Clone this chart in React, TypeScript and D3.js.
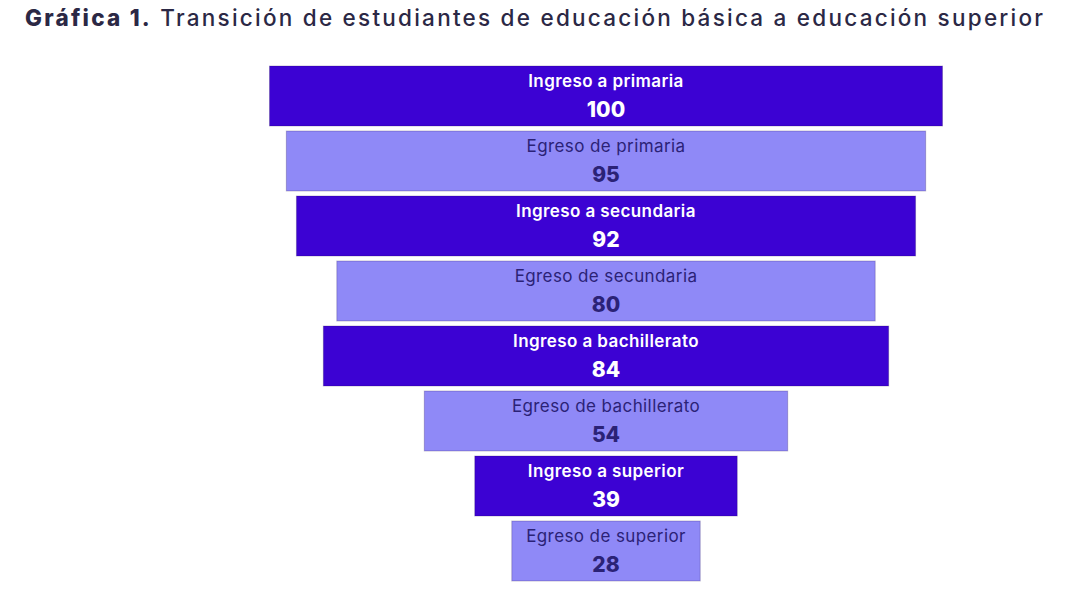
import * as d3 from "d3";

const stages = [
  "Ingreso a primaria",
  "Egreso de primaria",
  "Ingreso a secundaria",
  "Egreso de secundaria",
  "Ingreso a bachillerato",
  "Egreso de bachillerato",
  "Ingreso a superior",
  "Egreso de superior",
];
const values = [100, 95, 92, 80, 84, 54, 39, 28];
const kinds = ["ingreso", "egreso", "ingreso", "egreso", "ingreso", "egreso", "ingreso", "egreso"];

const W = 1065;
const H = 596;
const CENTER = 606;
const FONT = "Inter, 'Noto Sans', sans-serif";

const COLORS: Record<string, { fill: string; text: string; labelWeight: number }> = {
  ingreso: { fill: "#3c02d3", text: "#ffffff", labelWeight: 600 },
  egreso: { fill: "#8f89f7", text: "#2b2276", labelWeight: 400 },
};

export default function App() {
  const y = d3
    .scaleBand<number>()
    .domain(stages.map((_, i) => i))
    .range([66, 581])
    .paddingInner(0.077)
    .paddingOuter(0);
  const w = d3.scaleLinear().domain([0, 100]).range([0, 673]);
  const bh = y.bandwidth();

  return (
    <svg
      width={W}
      height={H}
      viewBox={`0 0 ${W} ${H}`}
      style={{ position: "absolute", left: 0, top: 0, background: "#fff" }}
    >
      <text
        x={25}
        y={26}
        fill="#2b2845"
        textLength={1018}
        lengthAdjust="spacing"
        style={{ fontFamily: FONT, fontSize: 22.5 }}
      >
        <tspan fontWeight={800}>Gráfica 1.</tspan>
        <tspan fontWeight={500}> Transición de estudiantes de educación básica a educación superior</tspan>
      </text>

      {stages.map((s, i) => {
        const c = COLORS[kinds[i]];
        const top = y(i) ?? 0;
        const bw = w(values[i]);
        return (
          <g key={s}>
            <rect
              x={CENTER - bw / 2}
              y={top}
              width={bw}
              height={bh}
              fill={c.fill}
              stroke="rgba(30,10,80,0.25)"
              strokeWidth={1}
            />
            <text
              x={CENTER}
              y={top + 21}
              textAnchor="middle"
              fill={c.text}
              letterSpacing={0.4}
              style={{ fontFamily: FONT, fontSize: 17, fontWeight: c.labelWeight }}
            >
              {s}
            </text>
            <text
              x={CENTER}
              y={top + 51}
              textAnchor="middle"
              fill={c.text}
              style={{ fontFamily: FONT, fontSize: 21, fontWeight: 800 }}
            >
              {values[i]}
            </text>
          </g>
        );
      })}
    </svg>
  );
}
